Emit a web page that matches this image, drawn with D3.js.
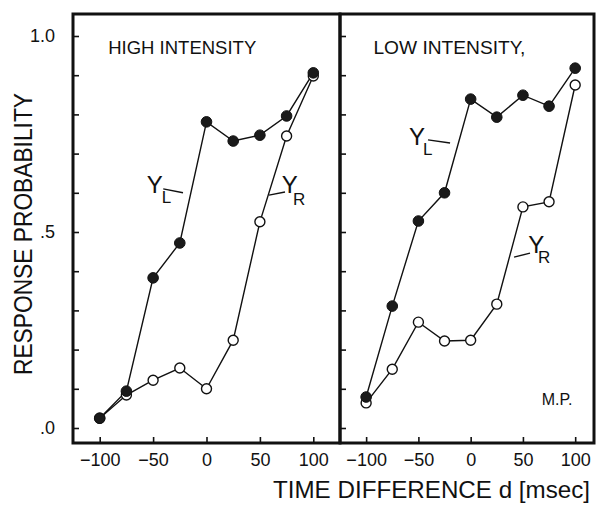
<!DOCTYPE html>
<html>
<head>
<meta charset="utf-8">
<script src="https://cdn.jsdelivr.net/npm/d3@7"></script>
<style>
  body { margin: 0; background: #fff; }
  svg text { font-family: "Liberation Sans", "DejaVu Sans", sans-serif; fill: #111; }
</style>
</head>
<body>
<div id="svg-container"></div>
<script>
//////////////  Data  //////////////
const delays = [-100, -75, -50, -25, 0, 25, 50, 75, 100];
const highYL = [0.025, 0.094, 0.383, 0.472, 0.781, 0.732, 0.747, 0.796, 0.906];
const highYR = [0.025, 0.084, 0.122, 0.153, 0.100, 0.224, 0.526, 0.745, 0.898];
const lowYL = [0.079, 0.311, 0.528, 0.600, 0.839, 0.793, 0.849, 0.821, 0.918];
const lowYR = [0.064, 0.150, 0.270, 0.222, 0.224, 0.316, 0.564, 0.577, 0.875];

const xTicks = [-100, -50, 0, 50, 100];
const yTicks = [0, 0.1, 0.2, 0.3, 0.4, 0.5, 0.6, 0.7, 0.8, 0.9, 1.0];
const yTickLabels = { 0: ".0", 0.5: ".5", 1: "1.0" };

const panelTitles = ["HIGH INTENSITY", "LOW INTENSITY,"];

//////////////  Init  //////////////
const width = 596;
const height = 506;
const svg = d3.select("#svg-container").append("svg")
  .attr("width", width).attr("height", height);

const frameTop = 14;
const frameBottom = 443;

// y scale shared by both panels
const yScale = d3.scaleLinear().domain([0, 1]).range([428, 36]);

const panels = [
  {
    title: panelTitles[0], yl: highYL, yr: highYR,
    range: [73, 340], domain: [-125, 125], showY: true,
    titlePos: [-92, 0.955],
    labelL: { y: [-56, 0.6], sub: [-42, 0.574], lead: [[-40.5, 0.61], [-22, 0.6]] },
    labelR: { y: [70.5, 0.6], sub: [81, 0.569], lead: [[58.5, 0.594], [73.5, 0.602]] },
  },
  {
    title: panelTitles[1], yl: lowYL, yr: lowYR,
    range: [340, 594], domain: [-125, 118], showY: false,
    titlePos: [-93, 0.955],
    labelL: { y: [-59, 0.722], sub: [-45.5, 0.696], lead: [[-40.8, 0.735], [-19.7, 0.727]] },
    labelR: { y: [55, 0.446], sub: [64.5, 0.421], lead: [[41.5, 0.436], [56.8, 0.446]] },
  },
];

panels.forEach((p, i) => {
  const xScale = d3.scaleLinear().domain(p.domain).range(p.range);
  const g = svg.append("g");

  // y ticks (inward)
  const yAxis = d3.axisLeft(yScale)
    .tickValues(yTicks)
    .tickSize(-6)
    .tickPadding(18)
    .tickFormat((d) => (p.showY && yTickLabels[d] !== undefined ? yTickLabels[d] : ""));
  const ya = g.append("g")
    .attr("transform", `translate(${p.range[0]},0)`)
    .call(yAxis);
  ya.select(".domain").remove();
  ya.selectAll("line").attr("stroke", "#111").attr("stroke-width", 1.6);
  ya.selectAll("text").attr("font-size", 18).attr("fill", "#111");

  // x ticks (inward)
  const xAxis = d3.axisBottom(xScale)
    .tickValues(xTicks)
    .tickSize(-6)
    .tickPadding(10)
    .tickFormat(d3.format("d"));
  const xa = g.append("g")
    .attr("transform", `translate(0,${frameBottom})`)
    .call(xAxis);
  xa.select(".domain").remove();
  xa.selectAll("line").attr("stroke", "#111").attr("stroke-width", 1.6);
  xa.selectAll("text").attr("font-size", 18).attr("fill", "#111");

  // frame
  g.append("rect")
    .attr("x", p.range[0]).attr("y", frameTop)
    .attr("width", p.range[1] - p.range[0])
    .attr("height", frameBottom - frameTop)
    .attr("fill", "none")
    .attr("stroke", "#111")
    .attr("stroke-width", 3);

  // lines
  const line = d3.line()
    .x((d) => xScale(d[0]))
    .y((d) => yScale(d[1]));

  const ptsR = delays.map((d, k) => [d, p.yr[k]]);
  const ptsL = delays.map((d, k) => [d, p.yl[k]]);

  [ptsR, ptsL].forEach((pts) => {
    g.append("path")
      .datum(pts)
      .attr("fill", "none")
      .attr("stroke", "#111")
      .attr("stroke-width", 1.4)
      .attr("d", line);
  });

  // markers: open first, filled on top
  g.selectAll(".open")
    .data(ptsR)
    .join("circle")
    .attr("class", "open")
    .attr("cx", (d) => xScale(d[0]))
    .attr("cy", (d) => yScale(d[1]))
    .attr("r", 5)
    .attr("fill", "#fff")
    .attr("stroke", "#111")
    .attr("stroke-width", 1.4);

  g.selectAll(".filled")
    .data(ptsL)
    .join("circle")
    .attr("class", "filled")
    .attr("cx", (d) => xScale(d[0]))
    .attr("cy", (d) => yScale(d[1]))
    .attr("r", 5.3)
    .attr("fill", "#1a1a1a")
    .attr("stroke", "#111")
    .attr("stroke-width", 1);

  // panel title
  g.append("text")
    .attr("x", xScale(p.titlePos[0]))
    .attr("y", yScale(p.titlePos[1]))
    .attr("font-size", 19)
    .attr("textLength", i === 0 ? 148 : 152)
    .attr("lengthAdjust", "spacingAndGlyphs")
    .text(p.title);

  // series labels with leader lines
  [[p.labelL, "L"], [p.labelR, "R"]].forEach(([lab, sub]) => {
    g.append("text")
      .attr("x", xScale(lab.y[0]))
      .attr("y", yScale(lab.y[1]))
      .attr("font-size", 24)
      .text("Y");
    g.append("text")
      .attr("x", xScale(lab.sub[0]))
      .attr("y", yScale(lab.sub[1]))
      .attr("font-size", 17)
      .text(sub);
    g.append("line")
      .attr("x1", xScale(lab.lead[0][0])).attr("y1", yScale(lab.lead[0][1]))
      .attr("x2", xScale(lab.lead[1][0])).attr("y2", yScale(lab.lead[1][1]))
      .attr("stroke", "#111")
      .attr("stroke-width", 1.4);
  });

  if (i === 1) {
    g.append("text")
      .attr("x", xScale(68))
      .attr("y", yScale(0.059))
      .attr("font-size", 16)
      .text("M.P.");
  }
});

// axis titles
svg.append("text")
  .attr("transform", `translate(32,${(93 + 375) / 2}) rotate(-90)`)
  .attr("text-anchor", "middle")
  .attr("font-size", 25)
  .attr("textLength", 282)
  .attr("lengthAdjust", "spacingAndGlyphs")
  .text("RESPONSE PROBABILITY");

svg.append("text")
  .attr("x", 273)
  .attr("y", 498)
  .attr("font-size", 24)
  .attr("textLength", 317)
  .attr("lengthAdjust", "spacingAndGlyphs")
  .text("TIME DIFFERENCE d [msec]");
</script>
</body>
</html>
